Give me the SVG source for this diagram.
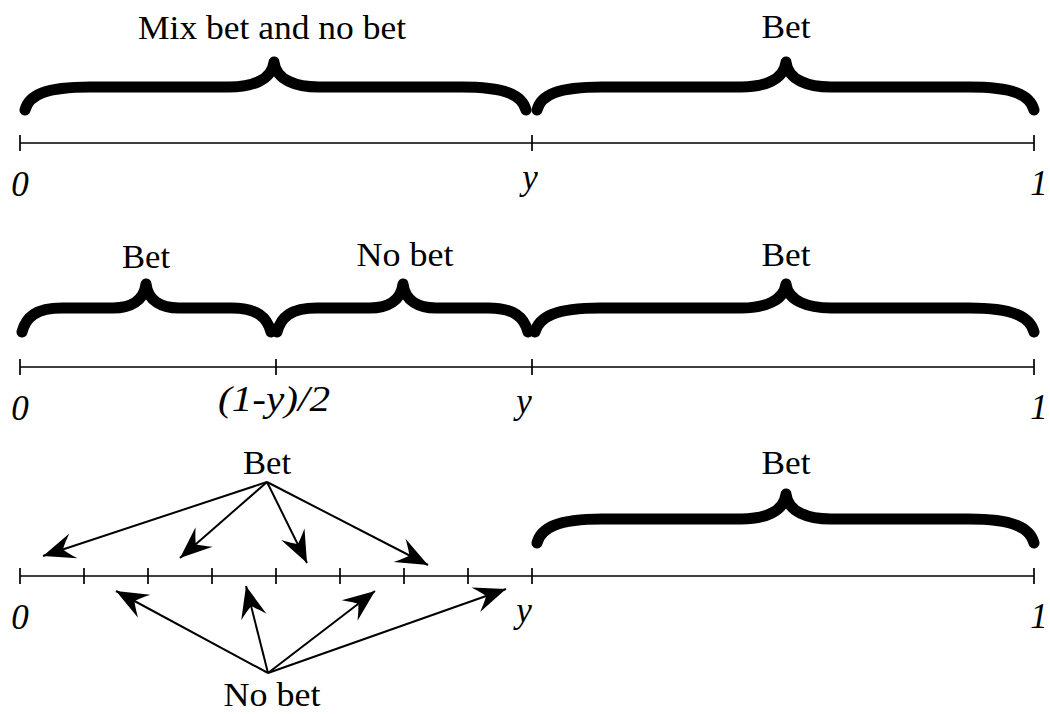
<svg xmlns="http://www.w3.org/2000/svg" width="1050" height="714" viewBox="0 0 1050 714">
<style>
.brace{fill:none;stroke:#000;stroke-width:11;stroke-linecap:round;stroke-linejoin:round}
.axis{fill:none;stroke:#000;stroke-width:1.7}
.arr{fill:none;stroke:#000;stroke-width:2;marker-end:url(#ah)}
.lbl{font-family:"Liberation Serif","Times New Roman",serif;font-size:33px;fill:#000;text-anchor:middle}
.math{font-family:"Liberation Serif","Times New Roman",serif;font-style:italic;font-size:35px;fill:#000;text-anchor:middle}
</style>
<defs>
<marker id="ah" markerUnits="userSpaceOnUse" markerWidth="44" markerHeight="36" viewBox="-38 -18 44 36" refX="0" refY="0" orient="auto">
<path d="M0,0 L-32,-13 Q-24,-4.5 -21,0 Q-24,4.5 -32,13 Z" fill="#000"/>
</marker>
</defs>
<rect width="1050" height="714" fill="#fff"/>

<g id="row1">
<g id="row1-axis">
<path class="axis" d="M20,143 H1034 M20,135 V151 M532,135 V151 M1034,135 V151"/>
<text class="math" x="20" y="196">0</text>
<text class="math" x="530" y="189">y</text>
<text class="math" x="1039" y="195">1</text>
</g>
<g id="row1-mix">
<path class="brace" d="M25,110 C29,95 45,87 90,87 L229,87 C252,87 272,80 274,62 C276,80 296,87 319,87 L461,87 C506,87 522,95 526,110"/>
<text class="lbl" x="272" y="39" textLength="268" lengthAdjust="spacingAndGlyphs">Mix bet and no bet</text>
</g>
<g id="row1-bet">
<path class="brace" d="M537,110 C541,95 557,87 602,87 L741,87 C764,87 784,80 786,62 C788,80 808,87 831,87 L969,87 C1014,87 1030,95 1034,110"/>
<text class="lbl" x="786" y="38" textLength="49" lengthAdjust="spacingAndGlyphs">Bet</text>
</g>
</g>

<g id="row2">
<g id="row2-axis">
<path class="axis" d="M20,367 H1034 M20,359 V375 M276,359 V375 M532,359 V375 M1034,359 V375"/>
<text class="math" x="20" y="420">0</text>
<text class="math" x="274" y="411" textLength="112" lengthAdjust="spacingAndGlyphs">(1-y)/2</text>
<text class="math" x="524" y="413">y</text>
<text class="math" x="1039" y="419">1</text>
</g>
<g id="row2-bet1">
<path class="brace" d="M22,332 C26,317 36,308 62,308 L113,308 C130,308 144,301 146,284 C148,301 162,308 179,308 L231,308 C257,308 267,317 271,332"/>
<text class="lbl" x="146" y="268" textLength="48" lengthAdjust="spacingAndGlyphs">Bet</text>
</g>
<g id="row2-nobet">
<path class="brace" d="M277,332 C281,317 291,308 317,308 L370,308 C387,308 401,301 403,284 C405,301 419,308 436,308 L488,308 C514,308 524,317 528,332"/>
<text class="lbl" x="405" y="266" textLength="97" lengthAdjust="spacingAndGlyphs">No bet</text>
</g>
<g id="row2-bet2">
<path class="brace" d="M535,332 C539,317 555,308 600,308 L741,308 C764,308 784,301 786,284 C788,301 808,308 831,308 L969,308 C1014,308 1030,317 1034,332"/>
<text class="lbl" x="786" y="266" textLength="49" lengthAdjust="spacingAndGlyphs">Bet</text>
</g>
</g>

<g id="row3">
<g id="row3-axis">
<path class="axis" d="M20,576 H1034 M20,568 V584 M84,568 V584 M148,568 V584 M212,568 V584 M276,568 V584 M340,568 V584 M404,568 V584 M468,568 V584 M532,568 V584 M1034,568 V584"/>
<text class="math" x="20" y="629">0</text>
<text class="math" x="524" y="622">y</text>
<text class="math" x="1039" y="628">1</text>
</g>
<g id="row3-bet-label">
<text class="lbl" x="267" y="474" textLength="48" lengthAdjust="spacingAndGlyphs">Bet</text>
</g>
<g id="row3-nobet-label">
<text class="lbl" x="272" y="706" textLength="97" lengthAdjust="spacingAndGlyphs">No bet</text>
</g>
<g id="row3-bet">
<path class="brace" d="M537,543 C541,528 557,519 602,519 L741,519 C764,519 784,512 786,494 C788,512 808,519 831,519 L969,519 C1014,519 1030,528 1034,543"/>
<text class="lbl" x="786" y="474" textLength="49" lengthAdjust="spacingAndGlyphs">Bet</text>
</g>
</g>

<g id="connectors">
<line class="arr" x1="267" y1="482" x2="43" y2="556"/>
<line class="arr" x1="267" y1="482" x2="180" y2="558"/>
<line class="arr" x1="267" y1="482" x2="307" y2="563"/>
<line class="arr" x1="267" y1="482" x2="428" y2="565"/>
<line class="arr" x1="268" y1="673" x2="116" y2="591"/>
<line class="arr" x1="268" y1="673" x2="246" y2="586"/>
<line class="arr" x1="268" y1="673" x2="375" y2="591"/>
<line class="arr" x1="268" y1="673" x2="506" y2="589"/>
</g>
</svg>
